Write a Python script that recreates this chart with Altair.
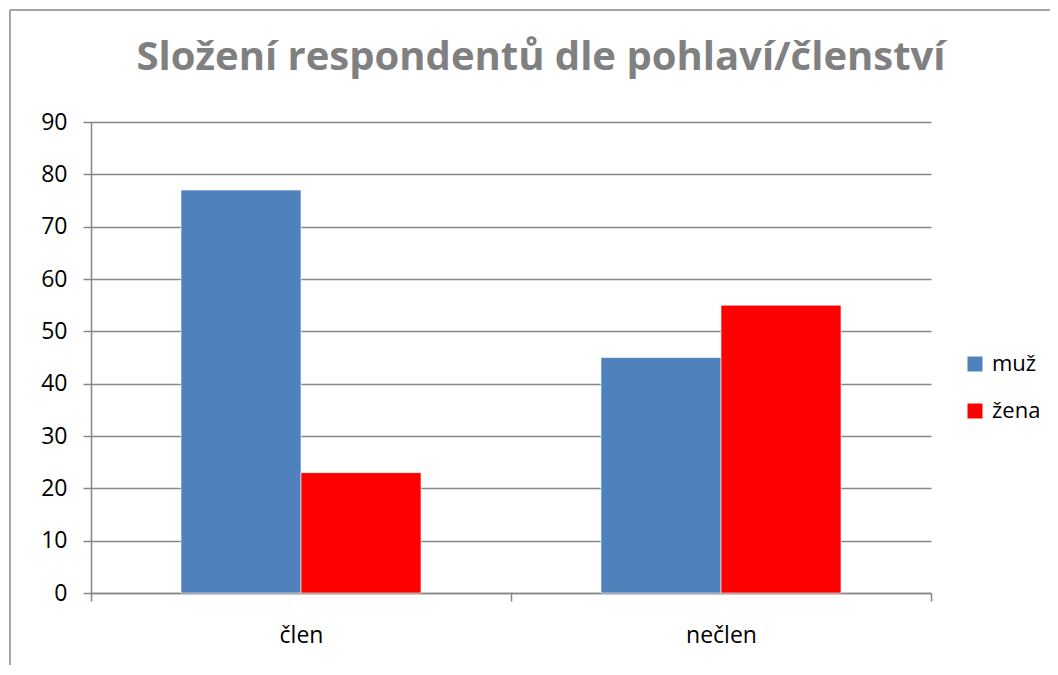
import altair as alt
import pandas as pd

title_text = "Složení respondentů dle pohlaví/členství"
categories = ["člen", "člen", "nečlen", "nečlen"]
genders = ["muž", "žena", "muž", "žena"]
values = [77, 23, 45, 55]
category_order = ["člen", "nečlen"]
gender_order = ["muž", "žena"]
gender_colors = ["#4F81BD", "#FF0000"]
y_ticks = [0, 10, 20, 30, 40, 50, 60, 70, 80, 90]

df = pd.DataFrame({"kategorie": categories, "pohlavi": genders, "pocet": values})
one_row = pd.DataFrame({"k": [0]})

FONT = "Open Sans"
GRAY = "#878787"

bars = alt.Chart(df).mark_bar(stroke="white", strokeWidth=0.6).encode(
    x=alt.X(
        "kategorie:N",
        sort=category_order,
        title=None,
        scale=alt.Scale(paddingInner=0, paddingOuter=0),
        axis=alt.Axis(
            labelAngle=0, labelFontSize=23, labelFont=FONT, labelColor="#000000",
            tickBand="extent", tickSize=8, tickColor=GRAY, tickWidth=1.5,
            domainColor=GRAY, domainWidth=1.5, labelPadding=23, grid=False,
        ),
    ),
    xOffset=alt.XOffset(
        "pohlavi:N", sort=gender_order,
        scale=alt.Scale(paddingInner=0, paddingOuter=0.75),
    ),
    y=alt.Y(
        "pocet:Q",
        title=None,
        scale=alt.Scale(domain=[0, 90], nice=False),
        axis=alt.Axis(
            values=y_ticks, labelFontSize=23, labelFont=FONT, labelColor="#000000",
            tickSize=8, tickColor=GRAY, tickWidth=1.5, domainColor=GRAY, domainWidth=1.5,
            gridColor=GRAY, gridWidth=1.4, labelPadding=16,
        ),
    ),
    color=alt.Color(
        "pohlavi:N",
        sort=gender_order,
        scale=alt.Scale(domain=gender_order, range=gender_colors),
        legend=alt.Legend(
            title=None, orient="none", legendX=873, legendY=231,
            symbolType="square", symbolSize=225, symbolStrokeWidth=0,
            labelFontSize=22, labelFont=FONT, labelColor="#000000",
            labelOffset=6, rowPadding=25,
        ),
    ),
)

frame_left = alt.Chart(one_row).mark_rule(color=GRAY, strokeWidth=1.5).encode(
    x=alt.value(-81), y=alt.value(-112), y2=alt.value(700)
)
frame_top = alt.Chart(one_row).mark_rule(color=GRAY, strokeWidth=1.5).encode(
    x=alt.value(-81), x2=alt.value(1100), y=alt.value(-112)
)
title = alt.Chart(one_row).mark_text(
    font=FONT, fontSize=40, fontWeight="bold", color="#808080",
    align="center", baseline="alphabetic",
).encode(
    x=alt.value(450), y=alt.value(-52), text=alt.value(title_text)
)

chart = alt.layer(frame_left, frame_top, title, bars).properties(
    width=840,
    height=471,
    autosize=alt.AutoSizeParams(type="none"),
    padding={"left": 83, "top": 114, "right": 119, "bottom": 72},
).configure_view(stroke=None)

chart.save("out.html", embed_options={"renderer": "svg", "actions": False})
